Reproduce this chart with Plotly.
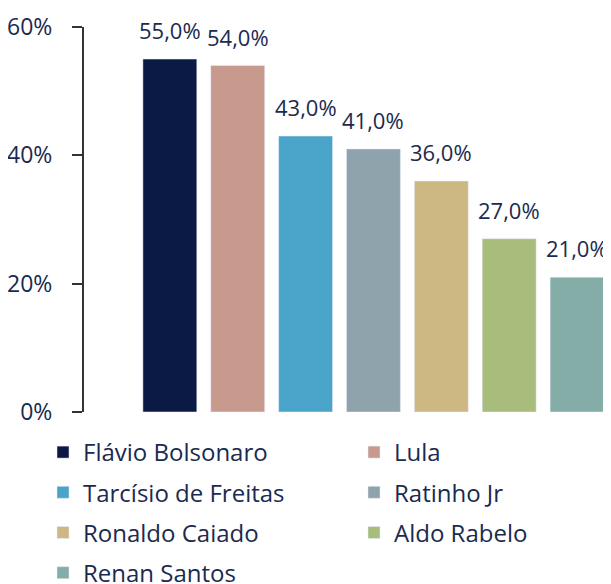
import plotly.graph_objects as go

candidates = ["Flávio Bolsonaro", "Lula", "Tarcísio de Freitas", "Ratinho Jr",
              "Ronaldo Caiado", "Aldo Rabelo", "Renan Santos"]
values = [55.0, 54.0, 43.0, 41.0, 36.0, 27.0, 21.0]
colors = ["#0a1a45", "#c89a8e", "#4aa3c8", "#8fa3ad", "#cdb884", "#a8bc7c", "#84ada8"]
tick_vals = [0, 20, 40, 60]
tick_text = ["0%", "20%", "40%", "60%"]

FONT = "Open Sans"
TXT = "#1b2a4e"

W, H = 603, 576  # page body has an 8px margin

fig = go.Figure()
for i, (name, v, c) in enumerate(zip(candidates, values, colors)):
    fig.add_trace(go.Bar(
        x=[name], y=[v], name=name, marker_color=c,
        legendgroup=name,
        legend="legend" if i % 2 == 0 else "legend2",
        hovertemplate="%{x}: %{y:.1f}%<extra></extra>",
    ))
    fig.add_annotation(
        x=name, y=v, xref="x", yref="y",
        text=f"{v:.1f}".replace(".", ",") + "%",
        showarrow=False, yanchor="middle", xanchor="center", yshift=29,
        font=dict(family=FONT, size=22, color=TXT),
    )

leg_common = dict(
    orientation="v", xref="container", yref="container",
    y=1 - 422 / H, xanchor="left", yanchor="top",
    font=dict(family=FONT, size=24, color=TXT),
    tracegroupgap=6, itemclick=False, bgcolor="rgba(0,0,0,0)",
)

fig.update_layout(
    width=W, height=H,
    margin=dict(l=76, r=0, t=19, b=172, autoexpand=False),
    plot_bgcolor="white", paper_bgcolor="white",
    barmode="relative", bargap=0.206,
    font=dict(family=FONT, color=TXT),
    showlegend=True,
    legend=dict(x=35 / W, **leg_common),
    legend2=dict(x=346 / W, **leg_common),
)
fig.update_xaxes(
    range=[-1.265, 6.5], showticklabels=False, showline=False,
    showgrid=False, zeroline=False, ticks="",
)
fig.update_yaxes(
    range=[0, 60], tickvals=tick_vals, ticktext=tick_text,
    showline=True, linecolor="#333333", linewidth=2,
    ticks="outside", ticklen=10, tickwidth=2, tickcolor="#333333",
    showgrid=False, zeroline=False, automargin=False,
    tickfont=dict(family=FONT, size=23, color=TXT),
    ticklabelstandoff=15,
)

fig.write_html("out.html")
